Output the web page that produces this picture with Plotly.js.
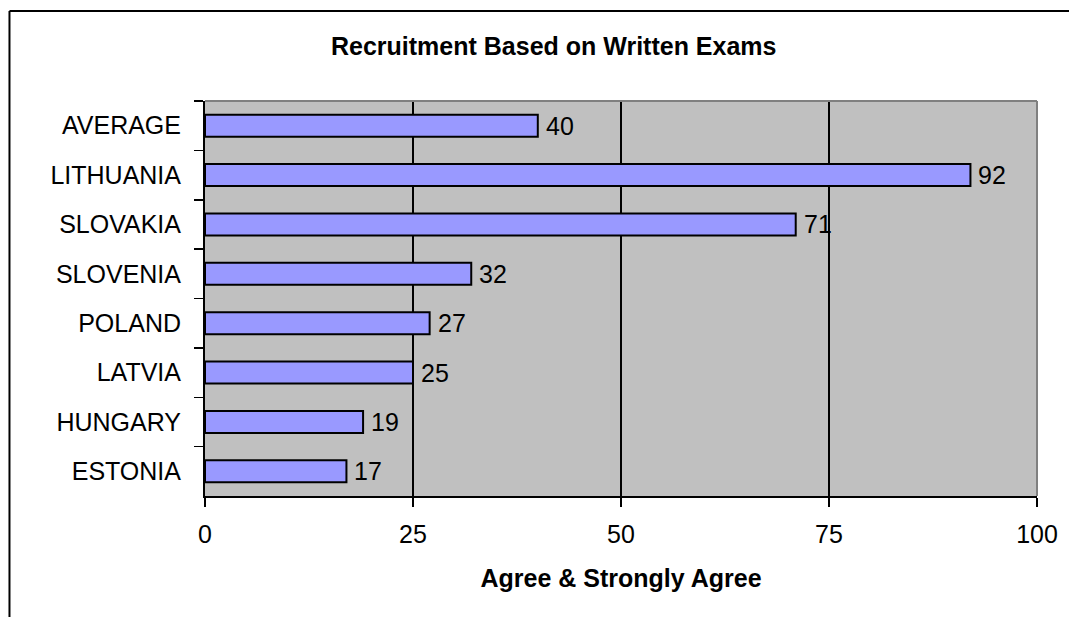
<!DOCTYPE html>
<html>
<head>
<meta charset="utf-8">
<script src="https://cdn.plot.ly/plotly-3.0.1.min.js"></script>
<style>html,body{margin:0;padding:0;background:#fff;}#chart{width:1069px;height:617px;}</style>
</head>
<body>
<div id="chart"></div>
<script>
const categories = ["AVERAGE", "LITHUANIA", "SLOVAKIA", "SLOVENIA", "POLAND", "LATVIA", "HUNGARY", "ESTONIA"];
const values = [40, 92, 71, 32, 27, 25, 19, 17];
const xTicks = [0, 25, 50, 75, 100];
const titleText = "Recruitment Based on Written Exams";
const xTitleText = "Agree & Strongly Agree";

const FONT = "Liberation Sans, Arial, sans-serif";

const trace = {
  type: "bar",
  orientation: "h",
  y: categories,
  x: values,
  cliponaxis: false,
  marker: {color: "#9999FF", line: {color: "#000", width: 2}},
  hoverinfo: "x+y"
};

const valueLabels = categories.map((c, i) => ({
  xref: "x", yref: "y",
  x: values[i], y: c,
  text: String(values[i]),
  showarrow: false,
  xanchor: "left", yanchor: "middle",
  xshift: 6,
  font: {family: FONT, size: 25, color: "#000"}
}));

const layout = {
  width: 1069,
  height: 617,
  margin: {l: 205, r: 32, t: 101, b: 121},
  paper_bgcolor: "#ffffff",
  plot_bgcolor: "#C0C0C0",
  font: {family: FONT, size: 25, color: "#000"},
  showlegend: false,
  bargap: 0.555,
  title: {
    text: titleText,
    font: {family: FONT, size: 25, weight: "bold", color: "#000"},
    xref: "container", x: 0.518, xanchor: "center",
    yref: "container", y: 0.925, yanchor: "middle"
  },
  xaxis: {
    range: [0, 100],
    tickmode: "array",
    tickvals: xTicks,
    ticktext: xTicks.map(String),
    showgrid: true,
    gridcolor: "#000",
    gridwidth: 1.5,
    zeroline: false,
    showline: true,
    linecolor: "#000",
    linewidth: 2,
    ticks: "outside",
    ticklen: 9,
    tickwidth: 1.5,
    tickcolor: "#000",
    ticklabelstandoff: 6,
    tickfont: {family: FONT, size: 25, color: "#000"},
    title: {
      text: xTitleText,
      font: {family: FONT, size: 25, weight: "bold", color: "#000"},
      standoff: 22
    },
    fixedrange: true
  },
  yaxis: {
    type: "category",
    autorange: "reversed",
    showgrid: false,
    zeroline: false,
    showline: true,
    linecolor: "#000",
    linewidth: 2,
    ticks: "outside",
    tickson: "boundaries",
    ticklen: 9,
    tickwidth: 1.5,
    tickcolor: "#000",
    ticklabelstandoff: 17,
    tickfont: {family: FONT, size: 25, color: "#000"},
    fixedrange: true
  },
  annotations: valueLabels,
  shapes: [
    {type: "line", xref: "paper", yref: "paper", x0: 0, x1: 1, y0: 1, y1: 1, line: {color: "#808080", width: 2}, layer: "above"},
    {type: "line", xref: "paper", yref: "paper", x0: 1, x1: 1, y0: 0, y1: 1, line: {color: "#808080", width: 2}, layer: "above"},
    {type: "line", xref: "paper", yref: "paper", x0: -0.235, x1: 1.04, y0: 1.2278, y1: 1.2278, line: {color: "#000", width: 2}},
    {type: "line", xref: "paper", yref: "paper", x0: -0.235, x1: -0.235, y0: 1.2278, y1: -0.31, line: {color: "#000", width: 2}}
  ]
};

Plotly.newPlot("chart", [trace], layout, {staticPlot: true, displayModeBar: false});
</script>
</body>
</html>
